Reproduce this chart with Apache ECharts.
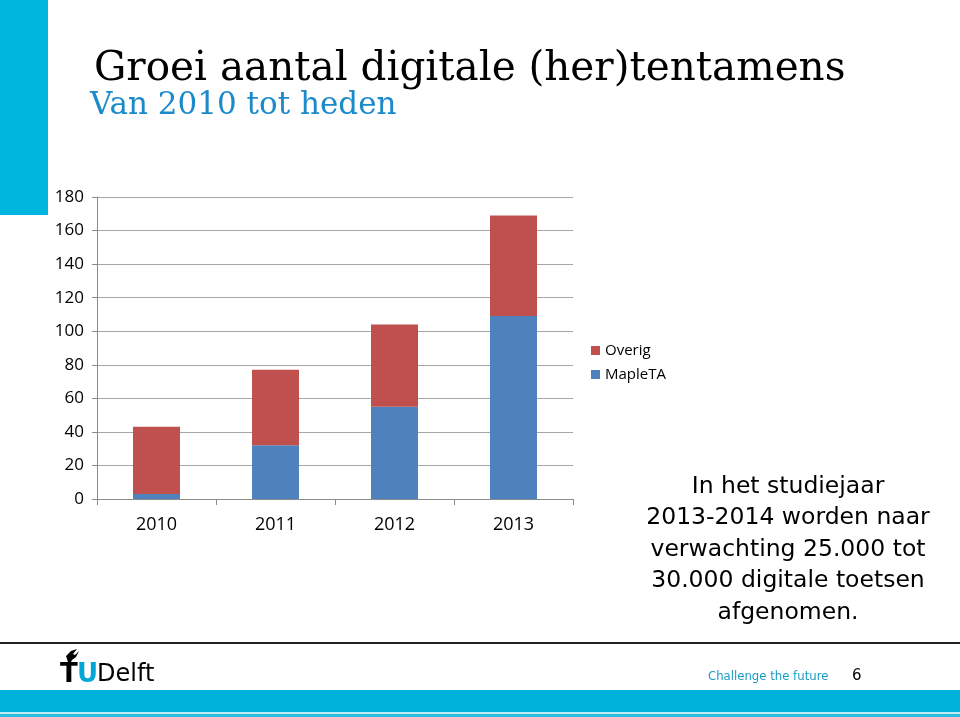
<!DOCTYPE html>
<html><head><meta charset="utf-8">
<script src="https://cdn.jsdelivr.net/npm/echarts@6/dist/echarts.min.js"></script>
<style>html,body{margin:0;padding:0;background:#fff}#c{width:960px;height:717px}</style>
</head><body><div id="c"></div>
<script>
const categories = ['2010', '2011', '2012', '2013'];
const mapleTA = [3, 32, 55, 109];
const overig = [40, 45, 49, 60];
const yTicks = [0, 20, 40, 60, 80, 100, 120, 140, 160, 180];

const chart = echarts.init(document.getElementById('c'));
const labelFont = 'Open Sans, Noto Sans, sans-serif';
chart.setOption({
  animation: false,
  backgroundColor: '#fff',
  grid: { left: 97, right: 387, top: 197, bottom: 218, containLabel: false },
  xAxis: {
    type: 'category', data: categories,
    axisLine: { lineStyle: { color: '#8c8c8c', width: 1 } },
    axisTick: { show: true, alignWithLabel: false, length: 6, lineStyle: { color: '#8c8c8c' } },
    axisLabel: { color: '#000', fontSize: 18, fontFamily: labelFont, margin: 17 }
  },
  yAxis: {
    type: 'value', min: 0, max: 180, interval: 20,
    axisLine: { show: true, lineStyle: { color: '#8c8c8c' } },
    axisTick: { show: true, length: 5, lineStyle: { color: '#8c8c8c' } },
    splitLine: { lineStyle: { color: '#a6a6a6', width: 1 } },
    axisLabel: { color: '#000', fontSize: 17, fontFamily: labelFont, margin: 13,
      formatter: v => yTicks.includes(v) ? String(v) : '' }
  },
  legend: {
    left: 586, top: 338, orient: 'vertical', itemWidth: 9, itemHeight: 9, itemGap: 9,
    icon: 'rect',
    textStyle: { fontSize: 15, fontFamily: labelFont, color: '#000' },
    data: ['Overig', 'MapleTA']
  },
  series: [
    { name: 'MapleTA', type: 'bar', stack: 't', data: mapleTA, barWidth: 47,
      itemStyle: { color: '#4F81BD' } },
    { name: 'Overig', type: 'bar', stack: 't', data: overig, barWidth: 47,
      itemStyle: { color: '#C0504D' } }
  ],
  graphic: [
    { type: 'rect', shape: { x: 0, y: 0, width: 48, height: 215 }, style: { fill: '#00B5DE' } },
    { type: 'text', x: 94, y: 49, style: { text: 'Groei aantal digitale (her)tentamens',
      font: '40.5px "DejaVu Serif", "Liberation Serif", serif', fill: '#000' } },
    { type: 'text', x: 90, y: 90, style: { text: 'Van 2010 tot heden',
      font: '31px "DejaVu Serif", "Liberation Serif", serif', fill: '#1B8ACB' } },
    { type: 'text', x: 788, y: 471, style: {
      text: 'In het studiejaar\n2013-2014 worden naar\nverwachting 25.000 tot\n30.000 digitale toetsen\nafgenomen.',
      font: '23.5px "DejaVu Sans", sans-serif', fill: '#000', align: 'center', lineHeight: 31.5 } },
    { type: 'rect', shape: { x: 0, y: 642, width: 960, height: 2 }, style: { fill: '#222' } },
    { type: 'rect', shape: { x: 0, y: 690, width: 960, height: 22 }, style: { fill: '#00B3DC' } },
    { type: 'rect', shape: { x: 0, y: 712, width: 960, height: 2 }, style: { fill: '#bfeaf5' } },
    { type: 'rect', shape: { x: 0, y: 714, width: 960, height: 3 }, style: { fill: '#29BDE0' } },
    { type: 'text', x: 60, y: 662, style: { text: 'T', font: 'bold 26px "DejaVu Sans", sans-serif', fill: '#000' } },
    { type: 'text', x: 77, y: 662, style: { text: 'U', font: 'bold 26px "DejaVu Sans", sans-serif', fill: '#00A6D6' } },
    { type: 'text', x: 97, y: 663, style: { text: 'Delft', font: '24px "DejaVu Sans", sans-serif', fill: '#000' } },
    { type: 'polygon', shape: { points: [[68, 662], [66, 656], [71, 651], [77, 649], [73, 654], [75, 655], [79, 651], [76, 657], [72, 660], [70, 664]] },
      style: { fill: '#000' } },
    { type: 'text', x: 708, y: 670, style: { text: 'Challenge the future',
      font: '13px "DejaVu Sans Condensed", "DejaVu Sans", sans-serif', fill: '#1A9BC4' } },
    { type: 'text', x: 852, y: 669, style: { text: '6', font: '15px "DejaVu Sans", sans-serif', fill: '#000' } }
  ]
});
</script></body></html>
